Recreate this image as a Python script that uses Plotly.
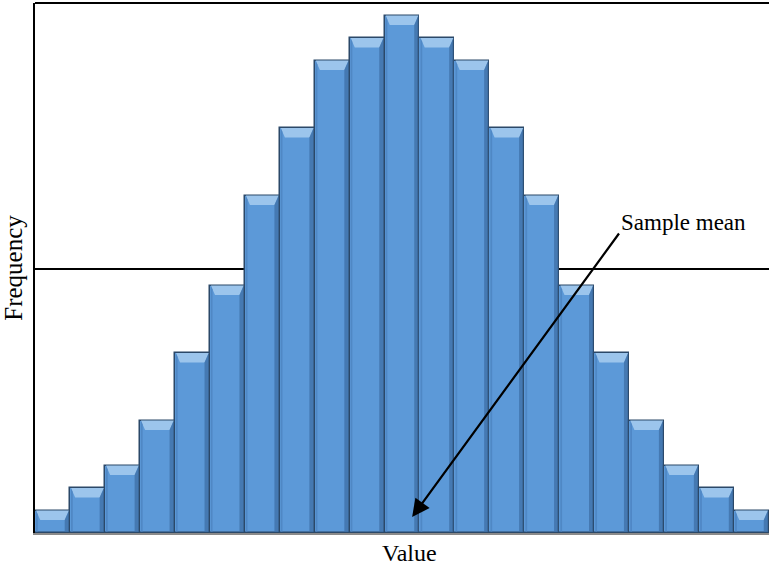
import plotly.graph_objects as go

# Histogram data: one bar per value bin
bins = list(range(21))
frequency = [1, 2, 3, 5, 8, 11, 15, 18, 21, 22, 23, 22, 21, 18, 15, 11, 8, 5, 3, 2, 1]
mean_level = 11.73

# Arrow pointing to the mean bin, and where its label sits
arrow_head = (10.29, 0.71)
arrow_tail = (16.24, 13.38)
label_pos = (16.2, 13.82)

serif = "Liberation Serif, Times New Roman, serif"
bar_fill = "#5c99d8"
bar_edge = "#2b4868"
bevel_fill = "#9cc5ec"
side_fill = "#3d6fa5"
left_fill = "#4a80bd"

fig = go.Figure()

fig.add_trace(go.Bar(
    x=bins, y=frequency, width=1.0,
    marker=dict(color=bar_fill, line=dict(color=bar_edge, width=1.5)),
    hoverinfo="x+y", showlegend=False,
))

# Bevelled look: light top face, darker sides on every bar
bevel_h = 0.42
inset = 0.15
shapes = []
for b, f in zip(bins, frequency):
    l, r = b - 0.5, b + 0.5
    shapes.append(dict(
        type="path", xref="x", yref="y", layer="above",
        path=f"M {l+0.03},{f} L {r-0.03},{f} L {r-inset},{f-bevel_h} L {l+inset},{f-bevel_h} Z",
        fillcolor=bevel_fill, line=dict(width=0),
    ))
    shapes.append(dict(
        type="path", xref="x", yref="y", layer="above",
        path=f"M {r-0.03},{f} L {r-inset},{f-bevel_h} L {r-inset},0.05 L {r-0.03},0.05 Z",
        fillcolor=side_fill, line=dict(width=0), opacity=0.75,
    ))
    shapes.append(dict(
        type="path", xref="x", yref="y", layer="above",
        path=f"M {l+0.03},{f} L {l+0.08},{f-bevel_h*0.4} L {l+0.08},0.05 L {l+0.03},0.05 Z",
        fillcolor=left_fill, line=dict(width=0), opacity=0.7,
    ))

# Horizontal reference line
shapes.append(dict(type="line", xref="paper", yref="y", x0=0, x1=1,
                   y0=mean_level, y1=mean_level, layer="below",
                   line=dict(color="black", width=2)))
# Top frame line
shapes.append(dict(type="line", xref="paper", yref="paper", x0=0, x1=1,
                   y0=1, y1=1, line=dict(color="black", width=2)))

annotations = [
    dict(x=arrow_head[0], y=arrow_head[1], xref="x", yref="y",
         ax=arrow_tail[0], ay=arrow_tail[1], axref="x", ayref="y",
         text="", showarrow=True, arrowhead=2, arrowsize=1.6,
         arrowwidth=2.2, arrowcolor="black"),
    dict(x=label_pos[0], y=label_pos[1], xref="x", yref="y",
         text="Sample mean", showarrow=False, xanchor="left", yanchor="middle",
         font=dict(family=serif, size=23, color="black")),
    # x-axis caption, sitting slightly right of centre
    dict(x=0.51, y=-0.038, xref="paper", yref="paper",
         text="Value", showarrow=False, xanchor="center", yanchor="middle",
         font=dict(family=serif, size=24, color="black")),
]

fig.update_layout(
    width=769, height=568,
    margin=dict(l=35, r=0, t=3, b=35),
    paper_bgcolor="white", plot_bgcolor="white",
    bargap=0,
    shapes=shapes, annotations=annotations,
    xaxis=dict(range=[-0.5, 20.5], showticklabels=False, ticks="",
               showgrid=False, zeroline=False,
               showline=True, linecolor="#8a8a8a", linewidth=2),
    yaxis=dict(range=[0, 23.56], showticklabels=False, ticks="",
               showgrid=False, zeroline=False,
               showline=True, linecolor="black", linewidth=2,
               title=dict(text="Frequency", standoff=3,
                          font=dict(family=serif, size=25, color="black"))),
)

fig.write_html("out.html")
